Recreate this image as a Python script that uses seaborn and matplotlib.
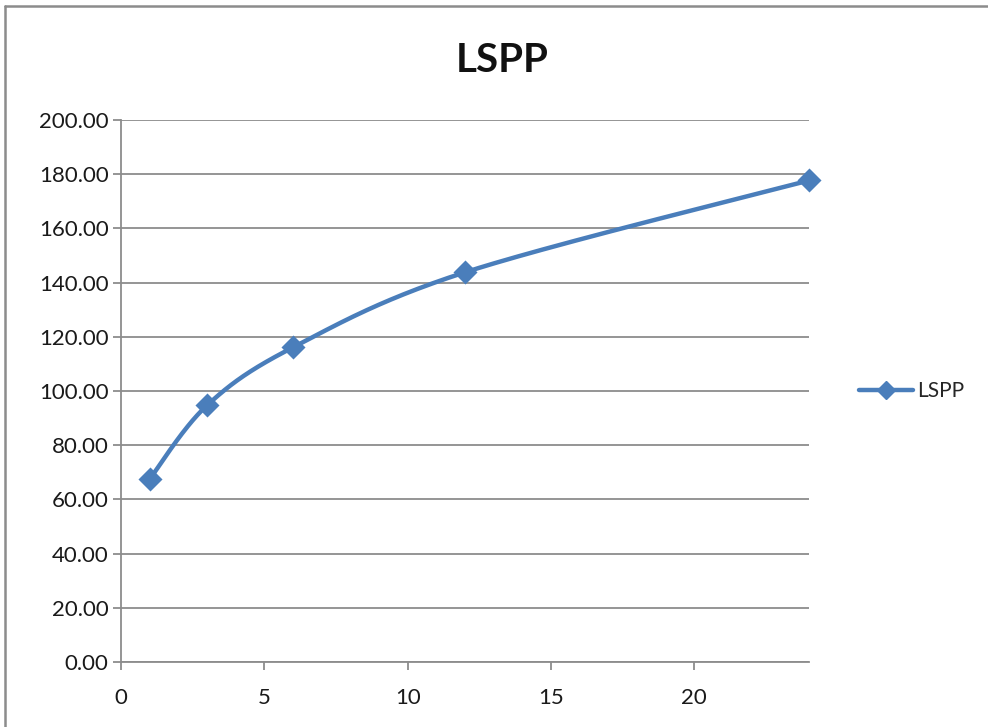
import numpy as np
import pandas as pd
import matplotlib
matplotlib.use("Agg")
import matplotlib.pyplot as plt
import seaborn as sns
from matplotlib.lines import Line2D

# Data
months = [1, 3, 6, 12, 24]
lspp = [67.5, 94.7, 116.1, 143.8, 177.7]
series_name = "LSPP"
x_ticks = [0, 5, 10, 15, 20]
y_ticks = [0, 20, 40, 60, 80, 100, 120, 140, 160, 180, 200]

sns.set_style("white")
plt.rcParams['font.family'] = ['Lato', 'DejaVu Sans']

df = pd.DataFrame({"x": months, "y": lspp})

fig = plt.figure(figsize=(9.88, 7.27), dpi=100)
ax = fig.add_axes([121/988, 1-662/727, (809-121)/988, (662-120)/727])
ax.set_xlim(0, 24)
ax.set_ylim(0, 200)

color = "#4A7EBB"

# Excel-like smoothing (Bezier with Catmull-Rom control points) in pixel space
sx, sy = (809-121)/24, (662-120)/200
P = np.column_stack([np.array(months)*sx, np.array(lspp)*sy])
n = len(P)
curve = []
t = np.linspace(0, 1, 60)
for i in range(n-1):
    p0 = P[i]; p3 = P[i+1]
    pm = P[i-1] if i > 0 else P[i]
    pp = P[i+2] if i+2 < n else P[i+1]
    c1 = p0 + (p3 - pm)/6
    c2 = p3 - (pp - p0)/6
    seg = ((1-t)**3)[:, None]*p0 + (3*(1-t)**2*t)[:, None]*c1 + (3*(1-t)*t**2)[:, None]*c2 + (t**3)[:, None]*p3
    curve.append(seg)
curve = np.vstack(curve)
ax.plot(curve[:, 0]/sx, curve[:, 1]/sy, color=color, lw=3.2, solid_capstyle="round",
        zorder=3, clip_on=False)

sns.scatterplot(data=df, x="x", y="y", marker="D", s=150, color=color,
                edgecolor=color, linewidth=0, ax=ax, zorder=4, clip_on=False)

# legend proxy
ax.plot([], [], color=color, lw=3.2, marker="D", markersize=9, label=series_name)
leg = ax.legend(loc="center left", bbox_to_anchor=(1.045, 0.5), frameon=False,
                fontsize=15, handlelength=2.6, handletextpad=0.2)

ax.set_xticks(x_ticks)
ax.set_yticks(y_ticks)
ax.set_yticklabels([f"{v:.2f}" for v in y_ticks])
ax.set_xlabel("")
ax.set_ylabel("")
ax.grid(axis="y", color="#8c8c8c", lw=1.3)
ax.grid(axis="x", visible=False)
for s in ["top", "right"]:
    ax.spines[s].set_visible(False)
for s in ["left", "bottom"]:
    ax.spines[s].set_color("#8c8c8c")
    ax.spines[s].set_linewidth(1.3)
ax.tick_params(axis="both", which="major", direction="out", length=6, width=1.3,
               color="#8c8c8c", labelsize=16, labelcolor="#1a1a1a")
ax.tick_params(axis="x", pad=13)
ax.tick_params(axis="y", pad=3)
ax.tick_params(left=True, bottom=True)

fig.text(502/988, 1-60/727, "LSPP", ha="center", va="center", fontsize=29,
         fontweight="bold", color="#111111")

# chart area outline (left and top edges visible in the crop)
fig.add_artist(Line2D([5/988, 5/988], [0, 1-6/727], transform=fig.transFigure,
                      color="#8c8c8c", lw=1.8))
fig.add_artist(Line2D([5/988, 1], [1-6/727, 1-6/727], transform=fig.transFigure,
                      color="#8c8c8c", lw=1.8))

fig.savefig("out.png", dpi=100)
